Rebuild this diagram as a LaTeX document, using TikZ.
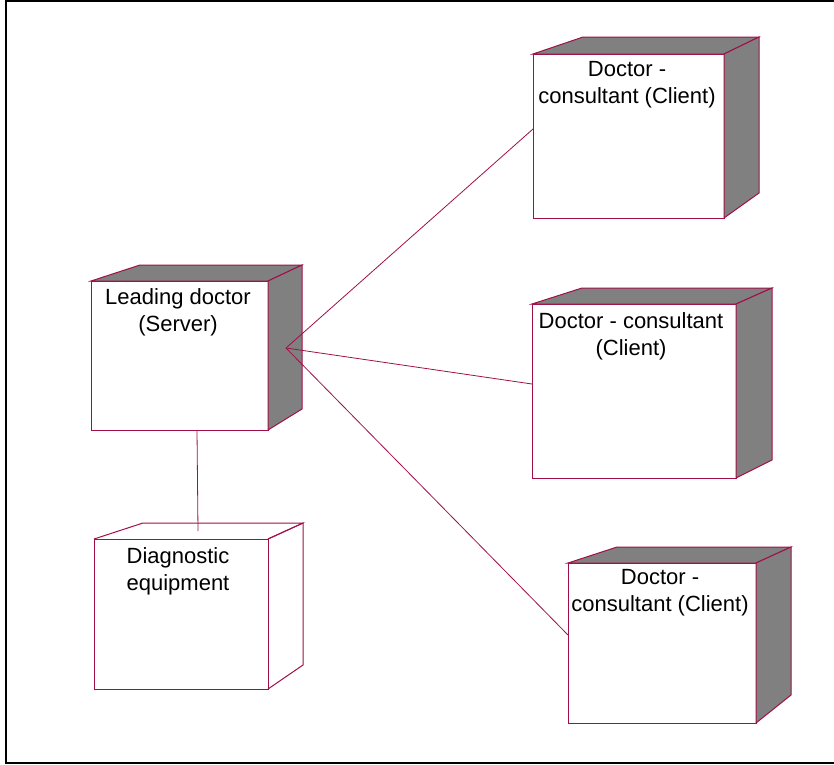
\documentclass[tikz,border=0pt]{standalone}
\usepackage{fontspec}
\setmainfont{Liberation Sans}
\definecolor{edgecol}{RGB}{160,16,72}
\definecolor{shade}{RGB}{128,128,128}
\begin{document}
\begin{tikzpicture}[x=1pt,y=-1pt,
  front/.style={draw=edgecol,fill=white,line width=1.1pt,rectangle,inner sep=0pt,anchor=north west},
  face/.style={draw=edgecol,line width=1pt,line join=miter},
  lbl/.style={anchor=north,inner sep=0pt,align=center,font=\fontsize{22}{27}\selectfont},
  link/.style={draw=edgecol,line width=0.8pt}]
\useasboundingbox (0,0) rectangle (834,764);
\draw[line width=2pt] (834,1) -- (6,1) -- (6,763) -- (834,763);

% server
\node[front,minimum width=177pt,minimum height=149pt] (srv) at (91,281) {};
\draw[face,fill=shade] (91,281) -- (140,265) -- (302,265) -- (268,281) -- cycle;
\draw[face,fill=shade] (268,281) -- (302,265) -- (302,409) -- (268,430) -- cycle;
\node[lbl] (srvt) at (178,288) {Leading doctor\\(Server)};

% client 1
\node[front,minimum width=191pt,minimum height=164pt] (c1) at (533,54) {};
\draw[face,fill=shade] (533,54) -- (583,37) -- (759,37) -- (724,54) -- cycle;
\draw[face,fill=shade] (724,54) -- (759,37) -- (759,193) -- (724,218) -- cycle;
\node[lbl] (c1t) at (627,61) {Doctor -\\consultant (Client)};

% client 2
\node[front,minimum width=204pt,minimum height=174pt] (c2) at (532,304) {};
\draw[face,fill=shade] (532,304) -- (582,288) -- (772,288) -- (736,304) -- cycle;
\draw[face,fill=shade] (736,304) -- (772,288) -- (772,460) -- (736,478) -- cycle;
\node[lbl] (c2t) at (631,312) {Doctor - consultant\\(Client)};

% client 3
\node[front,minimum width=188pt,minimum height=160pt] (c3) at (568,563) {};
\draw[face,fill=shade] (568,563) -- (617,547) -- (791,547) -- (756,563) -- cycle;
\draw[face,fill=shade] (756,563) -- (791,547) -- (791,695) -- (756,723) -- cycle;
\node[lbl] (c3t) at (660,569) {Doctor -\\consultant (Client)};

% diagnostic equipment
\node[front,minimum width=174pt,minimum height=150pt] (dg) at (94,539) {};
\draw[face] (94,539) -- (143,523) -- (303,523) -- (268,539);
\draw[face] (268,539) -- (303,523) -- (303,665) -- (268,689);
\node[lbl] (dgt) at (178,547) {Diagnostic\\equipment};

% connection points
\coordinate (srvport) at (286,348);
\coordinate (srvbot) at (197,430);
\coordinate (c1port) at (533,129);
\coordinate (c2port) at (532,384);
\coordinate (c3port) at (568,635);
\coordinate (dgport) at (198,531);

\draw[link] (srvport) -- (c1port);
\draw[link] (srvport) -- (c2port);
\draw[link] (srvport) -- (c3port);
\draw[link] (srvbot) -- (dgport);
\end{tikzpicture}
\end{document}
